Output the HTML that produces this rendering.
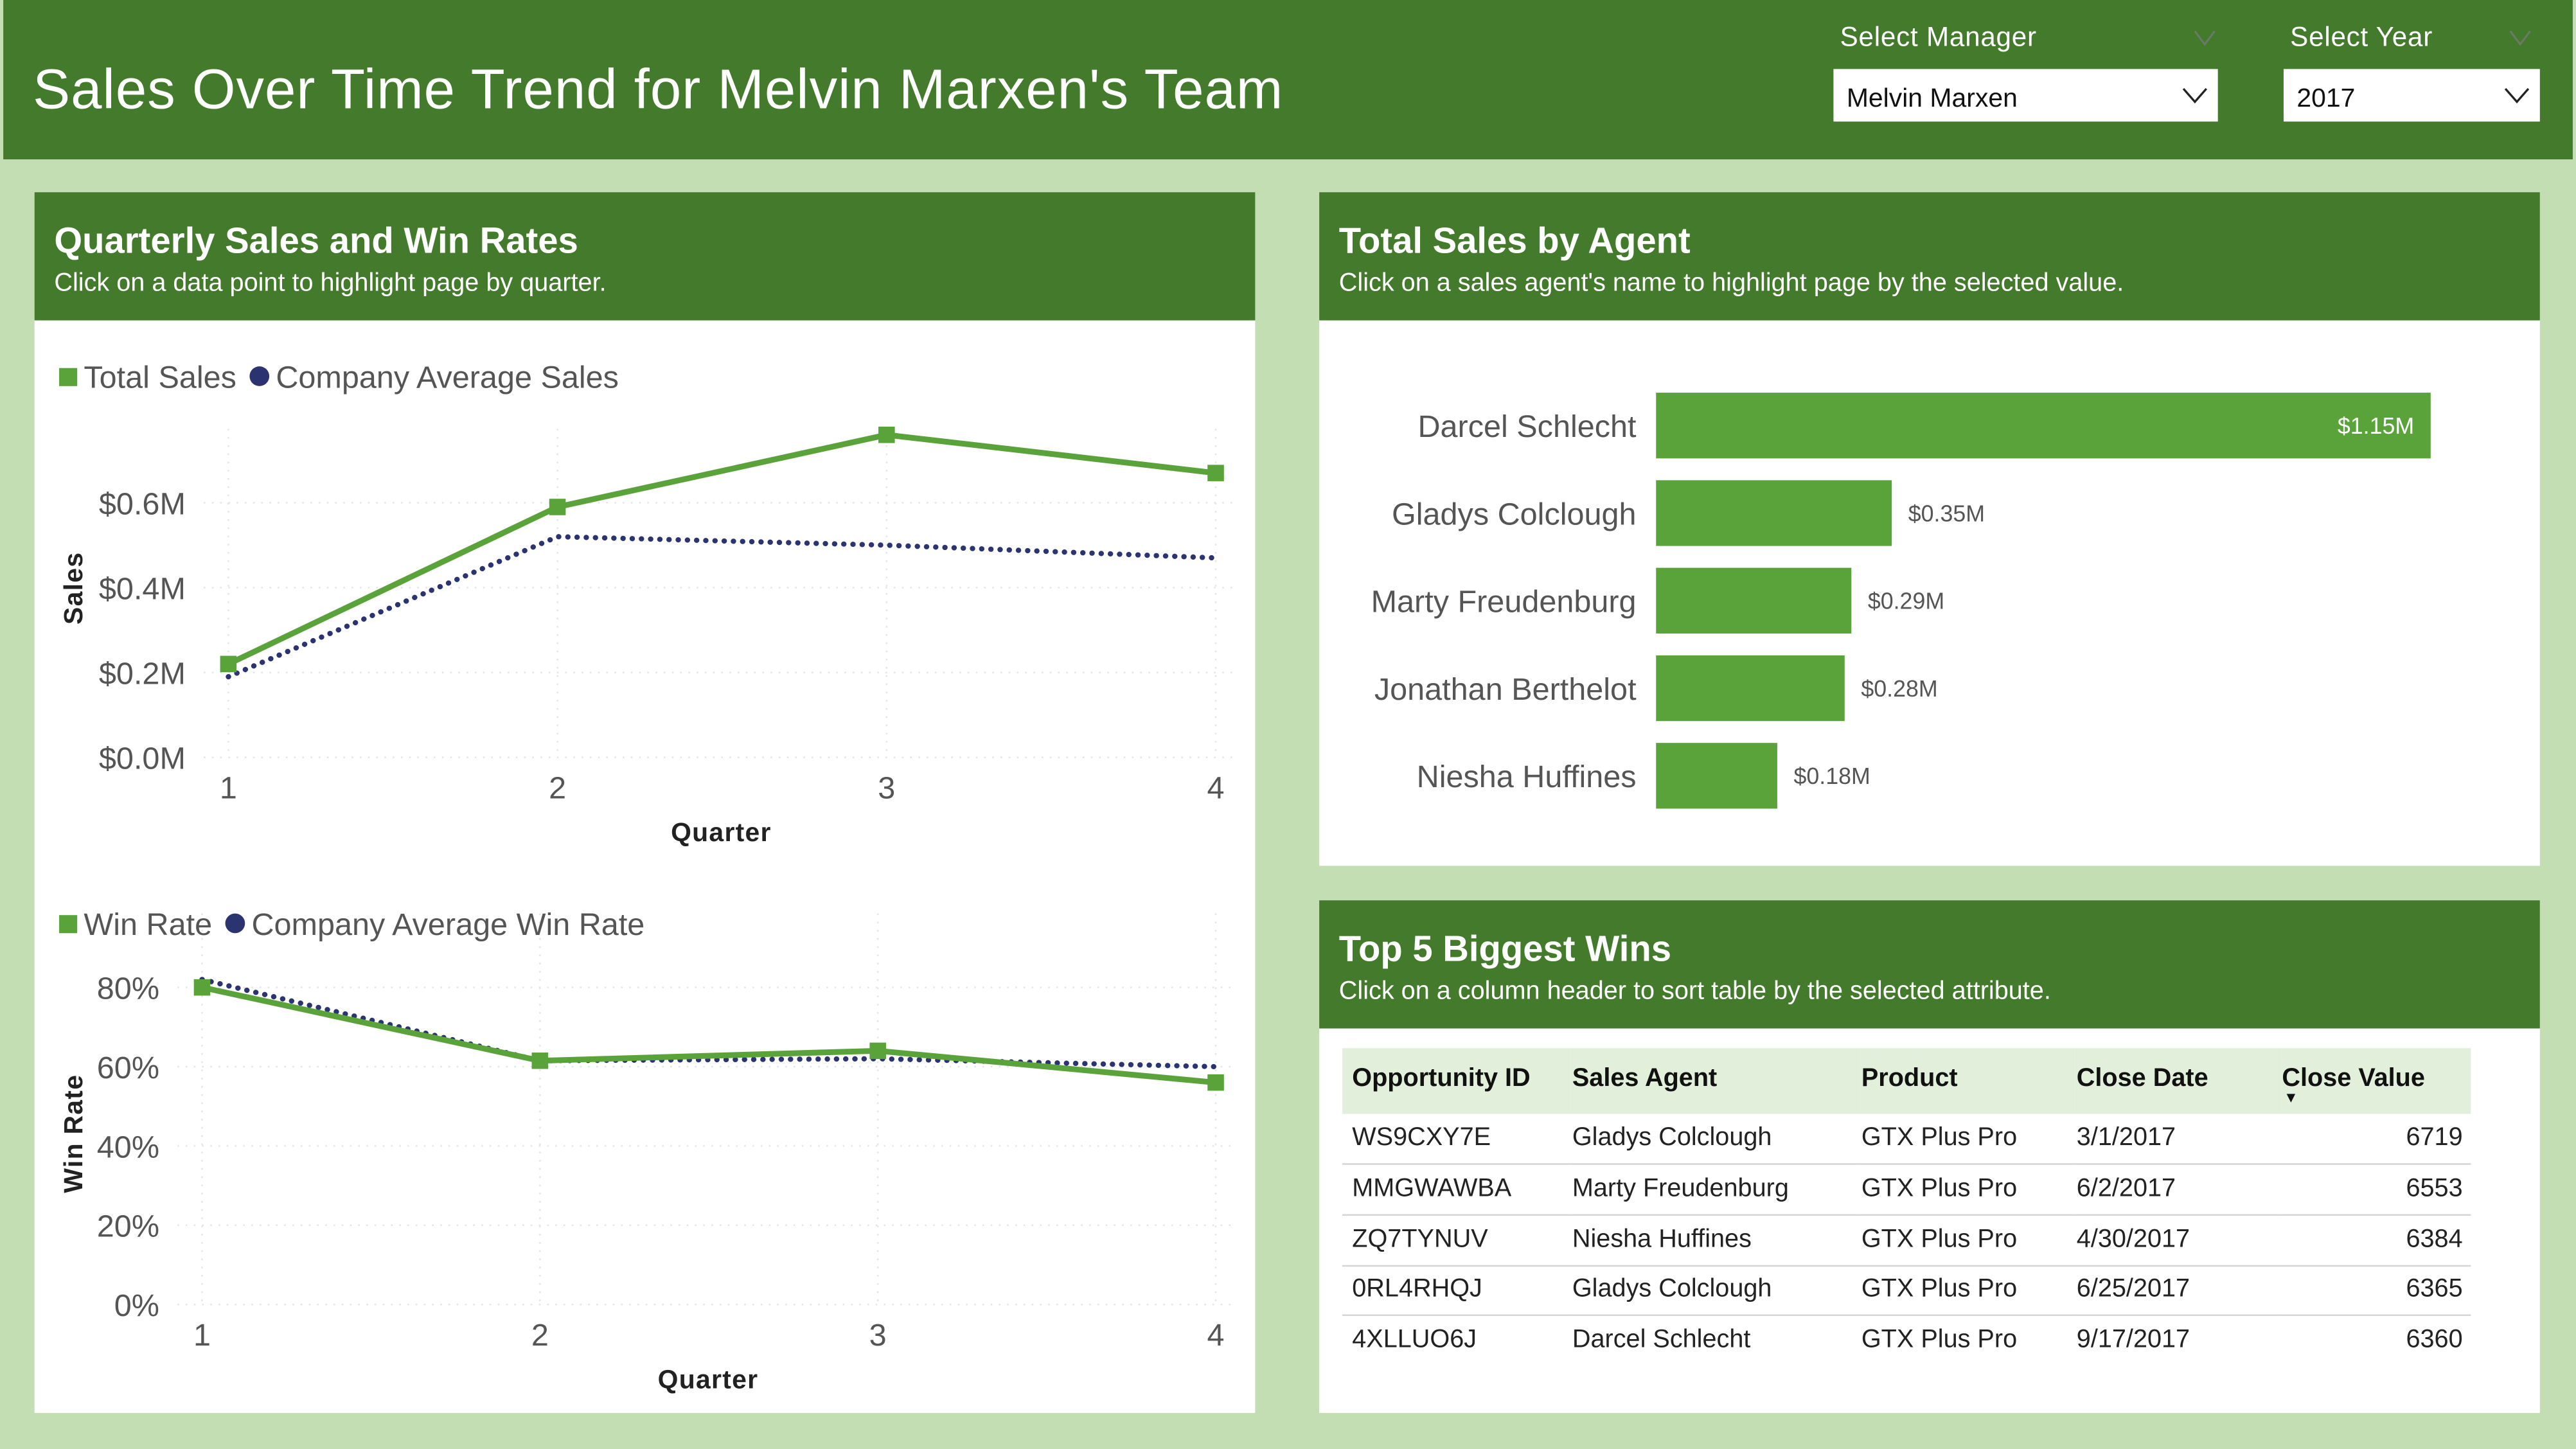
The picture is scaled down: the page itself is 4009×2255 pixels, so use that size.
<!DOCTYPE html>
<html><head><meta charset="utf-8">
<style>
html,body{margin:0;padding:0;width:4009px;height:2254px;overflow:hidden;background:#c3deb3;}
#root{position:absolute;left:0;top:0;width:1568px;height:882px;transform:scale(2.5568);transform-origin:0 0;font-family:"Liberation Sans","DejaVu Sans",sans-serif;background:#c3deb3;}
.abs{position:absolute}
.hdr{background:#437a2c;color:#fff}
.ptitle{position:absolute;left:12px;top:17px;font-size:22px;font-weight:bold}
.psub{position:absolute;left:12px;top:47px;font-size:15.5px}
.panel{position:absolute;background:#fff}
table{border-collapse:collapse}
</style></head><body>
<div id="root">
  <div class="abs hdr" style="left:2px;top:0;width:1564px;height:97px">
    <div class="abs" style="left:18px;top:36px;font-size:34px;letter-spacing:0.4px">Sales Over Time Trend for Melvin Marxen's Team</div>
    <div class="abs" style="left:1118px;top:14px;font-size:16.5px;letter-spacing:0.3px">Select Manager</div>
    <svg class="abs" style="left:1333px;top:17px" width="14" height="12"><polyline points="1,2 7,10 13,2" fill="none" stroke="#6b7a66" stroke-width="1.2"/></svg>
    <div class="abs" style="left:1392px;top:14px;font-size:16.5px;letter-spacing:0.3px">Select Year</div>
    <svg class="abs" style="left:1525px;top:17px" width="14" height="12"><polyline points="1,2 7,10 13,2" fill="none" stroke="#6b7a66" stroke-width="1.2"/></svg>
    <div class="abs" style="left:1114px;top:42px;width:234px;height:32px;background:#fff;color:#111">
      <span class="abs" style="left:8px;top:10px;font-size:16px">Melvin Marxen</span>
      <svg class="abs" style="right:6px;top:11px" width="16" height="11"><polyline points="1,1 8,9 15,1" fill="none" stroke="#222" stroke-width="1.3"/></svg>
    </div>
    <div class="abs" style="left:1388px;top:42px;width:156px;height:32px;background:#fff;color:#111">
      <span class="abs" style="left:8px;top:10px;font-size:16px">2017</span>
      <svg class="abs" style="right:6px;top:11px" width="16" height="11"><polyline points="1,1 8,9 15,1" fill="none" stroke="#222" stroke-width="1.3"/></svg>
    </div>
  </div>

  <div class="panel" style="left:21px;top:117px;width:743px;height:743px">
    <div class="abs hdr" style="left:0;top:0;width:743px;height:78px">
      <div class="ptitle">Quarterly Sales and Win Rates</div>
      <div class="psub">Click on a data point to highlight page by quarter.</div>
    </div>
  </div>
  <svg class="abs" style="left:0;top:0" width="1568" height="882" id="lc"></svg>

  <div class="panel" style="left:803px;top:117px;width:743px;height:410px">
    <div class="abs hdr" style="left:0;top:0;width:743px;height:78px">
      <div class="ptitle">Total Sales by Agent</div>
      <div class="psub">Click on a sales agent's name to highlight page by the selected value.</div>
    </div>
  </div>
  <svg class="abs" style="left:0;top:0" width="1568" height="882" id="bc"></svg>

  <div class="panel" style="left:803px;top:548px;width:743px;height:312px">
    <div class="abs hdr" style="left:0;top:0;width:743px;height:78px">
      <div class="ptitle">Top 5 Biggest Wins</div>
      <div class="psub">Click on a column header to sort table by the selected attribute.</div>
    </div>
    <table class="abs" style="left:14px;top:90px;width:687px;font-size:15.5px;color:#222;table-layout:fixed">
      <colgroup><col style="width:139px"><col style="width:176px"><col style="width:131px"><col style="width:126px"><col></colgroup>
      <tr style="background:#e2efda;height:40px;font-weight:bold;color:#111">
        <td style="padding-left:6px;padding-bottom:4px">Opportunity ID</td>
        <td style="padding-bottom:4px">Sales Agent</td>
        <td style="padding-bottom:4px">Product</td>
        <td style="padding-bottom:4px">Close Date</td>
        <td style="padding-left:0;padding-bottom:4px;position:relative">Close Value<span style="position:absolute;left:1px;top:25px;font-size:9px">▼</span></td>
      </tr>
      <tbody id="tb"></tbody>
    </table>
  </div>
</div>
<script>
const NS='http://www.w3.org/2000/svg';
function mk(svg,tag,attrs,text){const e=document.createElementNS(NS,tag);for(const k in attrs)e.setAttribute(k,attrs[k]);if(text!==undefined)e.textContent=text;svg.appendChild(e);return e;}
const quarters=[1,2,3,4];
const totalSales=[0.22,0.59,0.76,0.67];
const avgSales=[0.19,0.52,0.50,0.47];
const salesTicks=[0,0.2,0.4,0.6];
const salesTickLabels=['$0.0M','$0.2M','$0.4M','$0.6M'];
const winRate=[80,61.5,64,56];
const avgWinRate=[82,61.5,62,60];
const winTicks=[0,20,40,60,80];
const winTickLabels=['0%','20%','40%','60%','80%'];
const agents=['Darcel Schlecht','Gladys Colclough','Marty Freudenburg','Jonathan Berthelot','Niesha Huffines'];
const agentSales=[1.15,0.35,0.29,0.28,0.18];
const agentLabels=['$1.15M','$0.35M','$0.29M','$0.28M','$0.18M'];
const oppIds=['WS9CXY7E','MMGWAWBA','ZQ7TYNUV','0RL4RHQJ','4XLLUO6J'];
const oppAgents=['Gladys Colclough','Marty Freudenburg','Niesha Huffines','Gladys Colclough','Darcel Schlecht'];
const oppProducts=['GTX Plus Pro','GTX Plus Pro','GTX Plus Pro','GTX Plus Pro','GTX Plus Pro'];
const oppDates=['3/1/2017','6/2/2017','4/30/2017','6/25/2017','9/17/2017'];
const oppValues=[6719,6553,6384,6365,6360];

const lc=document.getElementById('lc');
function lineChart(o){
  const xs=q=>o.x0+(q-1)*(o.x1-o.x0)/3;
  const ys=v=>o.y0-(v-o.ticks[0])*(o.y0-o.yTop)/(o.ticks[o.ticks.length-1]-o.ticks[0]);
  o.ticks.forEach((t,i)=>{
    const g=mk(lc,'line',{x1:o.x0-15,x2:o.x1+10,y1:ys(t),y2:ys(t),stroke:'#e4e4ec','stroke-dasharray':'1 4'});
    
    const l=mk(lc,'text',{x:o.lx,y:ys(t)+7,'text-anchor':'end','font-size':19,fill:'#555'},o.labels[i]);
    
  });
  quarters.forEach(q=>{
    const v=mk(lc,'line',{x1:xs(q),x2:xs(q),y1:o.yTop-45,y2:o.y0,stroke:'#e4e4ec','stroke-dasharray':'1 4'});
    
    const t=mk(lc,'text',{x:xs(q),y:o.y0+25,'text-anchor':'middle','font-size':19,fill:'#555'},q);
    
  });
  const a=mk(lc,'polyline',{points:quarters.map((q,i)=>xs(q)+','+ys(o.avg[i])).join(' '),fill:'none',stroke:'#2b3470','stroke-width':3.2,'stroke-dasharray':'0.1 5.5','stroke-linecap':'round'});
  
  const m=mk(lc,'polyline',{points:quarters.map((q,i)=>xs(q)+','+ys(o.main[i])).join(' '),fill:'none',stroke:'#5aa33b','stroke-width':3.5});
  
  quarters.forEach((q,i)=>{
    const p=mk(lc,'rect',{x:xs(q)-5,y:ys(o.main[i])-5,width:10,height:10,fill:'#5aa33b'});
    
  });
  const yt=mk(lc,'text',{x:0,y:0,transform:'translate('+(o.ytx)+','+o.yty+') rotate(-90)','text-anchor':'middle','font-size':16,'font-weight':'bold',fill:'#222','letter-spacing':0.5},o.ytitle);
  
  const xt=mk(lc,'text',{x:o.xtx,y:o.y0+51,'text-anchor':'middle','font-size':16,'font-weight':'bold',fill:'#222','letter-spacing':0.5},'Quarter');
  
  const lr=mk(lc,'rect',{x:36,y:o.legY-11,width:11,height:11,fill:'#5aa33b'});
  
  const lt=mk(lc,'text',{x:51,y:o.legY+1,'font-size':19,fill:'#555'},o.leg1);
  
  const w=lt.getComputedTextLength();
  const lcir=mk(lc,'circle',{cx:51+w+14,cy:o.legY-6,r:6,fill:'#2b3470'});
  
  const lt2=mk(lc,'text',{x:51+w+24,y:o.legY+1,'font-size':19,fill:'#555'},o.leg2);
  
}
lineChart({x0:139,x1:740,y0:461,yTop:306,ticks:salesTicks,labels:salesTickLabels,main:totalSales,avg:avgSales,lx:113,ytx:50,yty:358,ytitle:'Sales',xtx:439,legY:235,leg1:'Total Sales',leg2:'Company Average Sales'});
lineChart({x0:123,x1:740,y0:794,yTop:601,ticks:winTicks,labels:winTickLabels,main:winRate,avg:avgWinRate,lx:97,ytx:50,yty:690,ytitle:'Win Rate',xtx:431,legY:568,leg1:'Win Rate',leg2:'Company Average Win Rate'});

const bc=document.getElementById('bc');
const bx0=1008,pxPerM=410,rowTop=239,rowStep=53.3,bh=40;
agents.forEach((a,i)=>{
  const y=rowTop+i*rowStep, w=agentSales[i]*pxPerM;
  const t=mk(bc,'text',{x:996,y:y+bh/2+7,'text-anchor':'end','font-size':19,fill:'#555'},a);
  
  const r=mk(bc,'rect',{x:bx0,y:y,width:w,height:bh,fill:'#5aa33b'});
  
  const inside=w>200;
  const l=mk(bc,'text',{x:inside?bx0+w-10:bx0+w+10,y:y+bh/2+5,'text-anchor':inside?'end':'start','font-size':14,fill:inside?'#fff':'#555'},agentLabels[i]);
  
});

const tb=document.getElementById('tb');
oppIds.forEach((id,i)=>{
  const tr=document.createElement('tr');
  
  
  tr.style.height='30.7px';
  if(i<oppIds.length-1) tr.style.borderBottom='1px solid #d6d6d6';
  const cells=[id,oppAgents[i],oppProducts[i],oppDates[i],oppValues[i]];
  cells.forEach((c,j)=>{
    const td=document.createElement('td');
    td.textContent=c;
    if(j===0) td.style.paddingLeft='6px';
    if(j===4){td.style.textAlign='right';td.style.paddingRight='5px';}
    tr.appendChild(td);
  });
  tb.appendChild(tr);
});
</script>
</body></html>
